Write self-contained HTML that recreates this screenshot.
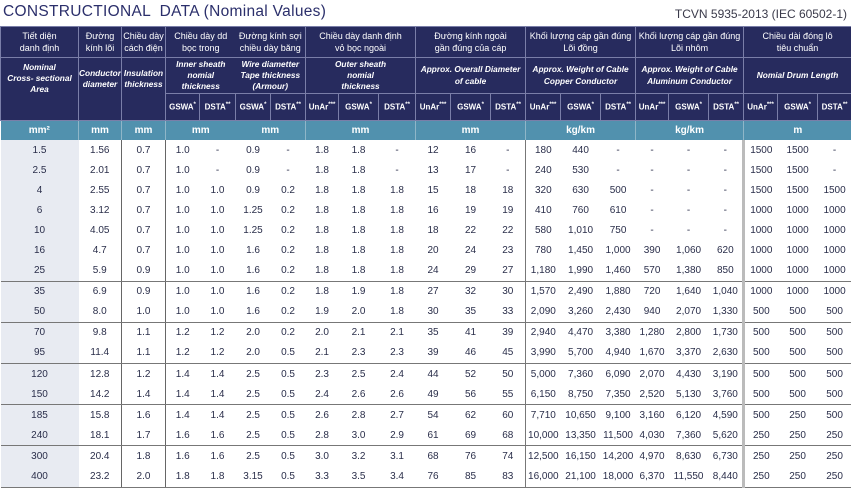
<!DOCTYPE html>
<html><head><meta charset="utf-8"><style>
body{margin:0;width:851px;height:494px;background:#fff;font-family:"Liberation Sans",sans-serif;overflow:hidden;position:relative}
.t1{position:absolute;left:3px;top:3px;font-size:15.5px;color:#2b2f6b;letter-spacing:0.3px;white-space:pre}
.t2{position:absolute;right:4px;top:7px;font-size:12px;color:#3a3a4a}
table{position:absolute;left:0;top:26px;border-collapse:collapse;table-layout:fixed;width:851px}
td{padding:0;text-align:center;overflow:hidden;white-space:nowrap}
thead td{background:#272b5e;color:#fff;border:1px solid #7a7ea8;line-height:1.35}
.a td{height:30px;font-size:9px}
.b td{height:35px;font-size:8.3px;font-style:italic;font-weight:bold}
.c td{height:26px;font-size:8px;font-weight:bold}
.c sup{font-size:6px}
.nr{border-right:none!important}
.nl{border-left:none!important}
.u td{background:#5191ae;color:#fff;height:19px;font-size:10px;font-weight:bold;border:none;border-right:1px solid #8fb6c8}
tbody td{font-size:10px;color:#2a2e4a;height:20.1px}
tbody td:nth-child(1){background:#e8ebf2}
tbody td:nth-child(2){border-right:1.5px solid #666}
tbody td:nth-child(3){border-right:1.5px solid #666}
tbody td:nth-child(13){border-right:1.5px solid #777}
tbody td:nth-child(19){border-right:3px solid #bbb}
tr.s td{border-bottom:1.5px solid #777}
</style></head><body>
<div class="t1">CONSTRUCTIONAL  DATA (Nominal Values)</div>
<div class="t2">TCVN 5935-2013 (IEC 60502-1)</div>
<table>
<colgroup>
<col style="width:78px"><col style="width:43px"><col style="width:44px">
<col style="width:34px"><col style="width:36px"><col style="width:35px"><col style="width:35px">
<col style="width:33px"><col style="width:40px"><col style="width:37px">
<col style="width:35px"><col style="width:40px"><col style="width:35px">
<col style="width:35px"><col style="width:40px"><col style="width:35px">
<col style="width:33px"><col style="width:40px"><col style="width:35px">
<col style="width:34px"><col style="width:40px"><col style="width:34px">
</colgroup>
<thead>
<tr class="a"><td>Tiết diện<br>danh định</td><td>Đường<br>kính lõi</td><td>Chiều dày<br>cách điện</td><td colspan="2" class="nr">Chiều dày dd<br>bọc trong</td><td colspan="2" class="nl">Đường kính sợi<br>chiều dày băng</td><td colspan="3">Chiều dày danh định<br>vỏ bọc ngoài</td><td colspan="3">Đường kính ngoài<br>gần đúng của cáp</td><td colspan="3">Khối lượng cáp gần đúng<br>Lõi đồng</td><td colspan="3">Khối lượng cáp gần đúng<br>Lõi nhôm</td><td colspan="3">Chiều dài đóng lô<br>tiêu chuẩn</td></tr>
<tr class="b"><td rowspan="2" style="vertical-align:top;padding-top:4px">Nominal<br>Cross- sectional<br>Area</td><td rowspan="2" style="vertical-align:top;padding-top:10px">Conductor<br>diameter</td><td rowspan="2" style="vertical-align:top;padding-top:10px">Insulation<br>thickness</td><td colspan="2" class="nr">Inner sheath<br>nomial<br>thickness</td><td colspan="2" class="nl">Wire diametter<br>Tape thickness<br>(Armour)</td><td colspan="3">Outer sheath<br>nomial<br>thickness</td><td colspan="3">Approx. Overall Diameter<br>of cable</td><td colspan="3">Approx. Weight of Cable<br>Copper Conductor</td><td colspan="3">Approx. Weight of Cable<br>Aluminum Conductor</td><td colspan="3">Nomial Drum Length</td></tr>
<tr class="c"><td>GSWA<sup>*</sup></td><td>DSTA<sup>**</sup></td><td>GSWA<sup>*</sup></td><td>DSTA<sup>**</sup></td><td>UnAr<sup>***</sup></td><td>GSWA<sup>*</sup></td><td>DSTA<sup>**</sup></td><td>UnAr<sup>***</sup></td><td>GSWA<sup>*</sup></td><td>DSTA<sup>**</sup></td><td>UnAr<sup>***</sup></td><td>GSWA<sup>*</sup></td><td>DSTA<sup>**</sup></td><td>UnAr<sup>***</sup></td><td>GSWA<sup>*</sup></td><td>DSTA<sup>**</sup></td><td>UnAr<sup>***</sup></td><td>GSWA<sup>*</sup></td><td>DSTA<sup>**</sup></td></tr>
<tr class="u"><td>mm²</td><td>mm</td><td>mm</td><td colspan="2" style="border-right:none">mm</td><td colspan="2">mm</td><td colspan="3">mm</td><td colspan="3">mm</td><td colspan="3">kg/km</td><td colspan="3">kg/km</td><td colspan="3" style="border-right:none">m</td></tr>
</thead>
<tbody>
<tr><td>1.5</td><td>1.56</td><td>0.7</td><td>1.0</td><td>-</td><td>0.9</td><td>-</td><td>1.8</td><td>1.8</td><td>-</td><td>12</td><td>16</td><td>-</td><td>180</td><td>440</td><td>-</td><td>-</td><td>-</td><td>-</td><td>1500</td><td>1500</td><td>-</td></tr>
<tr><td>2.5</td><td>2.01</td><td>0.7</td><td>1.0</td><td>-</td><td>0.9</td><td>-</td><td>1.8</td><td>1.8</td><td>-</td><td>13</td><td>17</td><td>-</td><td>240</td><td>530</td><td>-</td><td>-</td><td>-</td><td>-</td><td>1500</td><td>1500</td><td>-</td></tr>
<tr><td>4</td><td>2.55</td><td>0.7</td><td>1.0</td><td>1.0</td><td>0.9</td><td>0.2</td><td>1.8</td><td>1.8</td><td>1.8</td><td>15</td><td>18</td><td>18</td><td>320</td><td>630</td><td>500</td><td>-</td><td>-</td><td>-</td><td>1500</td><td>1500</td><td>1500</td></tr>
<tr><td>6</td><td>3.12</td><td>0.7</td><td>1.0</td><td>1.0</td><td>1.25</td><td>0.2</td><td>1.8</td><td>1.8</td><td>1.8</td><td>16</td><td>19</td><td>19</td><td>410</td><td>760</td><td>610</td><td>-</td><td>-</td><td>-</td><td>1000</td><td>1000</td><td>1000</td></tr>
<tr><td>10</td><td>4.05</td><td>0.7</td><td>1.0</td><td>1.0</td><td>1.25</td><td>0.2</td><td>1.8</td><td>1.8</td><td>1.8</td><td>18</td><td>22</td><td>22</td><td>580</td><td>1,010</td><td>750</td><td>-</td><td>-</td><td>-</td><td>1000</td><td>1000</td><td>1000</td></tr>
<tr><td>16</td><td>4.7</td><td>0.7</td><td>1.0</td><td>1.0</td><td>1.6</td><td>0.2</td><td>1.8</td><td>1.8</td><td>1.8</td><td>20</td><td>24</td><td>23</td><td>780</td><td>1,450</td><td>1,000</td><td>390</td><td>1,060</td><td>620</td><td>1000</td><td>1000</td><td>1000</td></tr>
<tr class="s"><td>25</td><td>5.9</td><td>0.9</td><td>1.0</td><td>1.0</td><td>1.6</td><td>0.2</td><td>1.8</td><td>1.8</td><td>1.8</td><td>24</td><td>29</td><td>27</td><td>1,180</td><td>1,990</td><td>1,460</td><td>570</td><td>1,380</td><td>850</td><td>1000</td><td>1000</td><td>1000</td></tr>
<tr><td>35</td><td>6.9</td><td>0.9</td><td>1.0</td><td>1.0</td><td>1.6</td><td>0.2</td><td>1.8</td><td>1.9</td><td>1.8</td><td>27</td><td>32</td><td>30</td><td>1,570</td><td>2,490</td><td>1,880</td><td>720</td><td>1,640</td><td>1,040</td><td>1000</td><td>1000</td><td>1000</td></tr>
<tr class="s"><td>50</td><td>8.0</td><td>1.0</td><td>1.0</td><td>1.0</td><td>1.6</td><td>0.2</td><td>1.9</td><td>2.0</td><td>1.8</td><td>30</td><td>35</td><td>33</td><td>2,090</td><td>3,260</td><td>2,430</td><td>940</td><td>2,070</td><td>1,330</td><td>500</td><td>500</td><td>500</td></tr>
<tr><td>70</td><td>9.8</td><td>1.1</td><td>1.2</td><td>1.2</td><td>2.0</td><td>0.2</td><td>2.0</td><td>2.1</td><td>2.1</td><td>35</td><td>41</td><td>39</td><td>2,940</td><td>4,470</td><td>3,380</td><td>1,280</td><td>2,800</td><td>1,730</td><td>500</td><td>500</td><td>500</td></tr>
<tr class="s"><td>95</td><td>11.4</td><td>1.1</td><td>1.2</td><td>1.2</td><td>2.0</td><td>0.5</td><td>2.1</td><td>2.3</td><td>2.3</td><td>39</td><td>46</td><td>45</td><td>3,990</td><td>5,700</td><td>4,940</td><td>1,670</td><td>3,370</td><td>2,630</td><td>500</td><td>500</td><td>500</td></tr>
<tr><td>120</td><td>12.8</td><td>1.2</td><td>1.4</td><td>1.4</td><td>2.5</td><td>0.5</td><td>2.3</td><td>2.5</td><td>2.4</td><td>44</td><td>52</td><td>50</td><td>5,000</td><td>7,360</td><td>6,090</td><td>2,070</td><td>4,430</td><td>3,190</td><td>500</td><td>500</td><td>500</td></tr>
<tr class="s"><td>150</td><td>14.2</td><td>1.4</td><td>1.4</td><td>1.4</td><td>2.5</td><td>0.5</td><td>2.4</td><td>2.6</td><td>2.6</td><td>49</td><td>56</td><td>55</td><td>6,150</td><td>8,750</td><td>7,350</td><td>2,520</td><td>5,130</td><td>3,760</td><td>500</td><td>500</td><td>500</td></tr>
<tr><td>185</td><td>15.8</td><td>1.6</td><td>1.4</td><td>1.4</td><td>2.5</td><td>0.5</td><td>2.6</td><td>2.8</td><td>2.7</td><td>54</td><td>62</td><td>60</td><td>7,710</td><td>10,650</td><td>9,100</td><td>3,160</td><td>6,120</td><td>4,590</td><td>500</td><td>250</td><td>500</td></tr>
<tr class="s"><td>240</td><td>18.1</td><td>1.7</td><td>1.6</td><td>1.6</td><td>2.5</td><td>0.5</td><td>2.8</td><td>3.0</td><td>2.9</td><td>61</td><td>69</td><td>68</td><td>10,000</td><td>13,350</td><td>11,500</td><td>4,030</td><td>7,360</td><td>5,620</td><td>250</td><td>250</td><td>250</td></tr>
<tr><td>300</td><td>20.4</td><td>1.8</td><td>1.6</td><td>1.6</td><td>2.5</td><td>0.5</td><td>3.0</td><td>3.2</td><td>3.1</td><td>68</td><td>76</td><td>74</td><td>12,500</td><td>16,150</td><td>14,200</td><td>4,970</td><td>8,630</td><td>6,730</td><td>250</td><td>250</td><td>250</td></tr>
<tr class="s"><td>400</td><td>23.2</td><td>2.0</td><td>1.8</td><td>1.8</td><td>3.15</td><td>0.5</td><td>3.3</td><td>3.5</td><td>3.4</td><td>76</td><td>85</td><td>83</td><td>16,000</td><td>21,100</td><td>18,000</td><td>6,370</td><td>11,550</td><td>8,440</td><td>250</td><td>250</td><td>250</td></tr>
</tbody>
</table>
</body></html>
